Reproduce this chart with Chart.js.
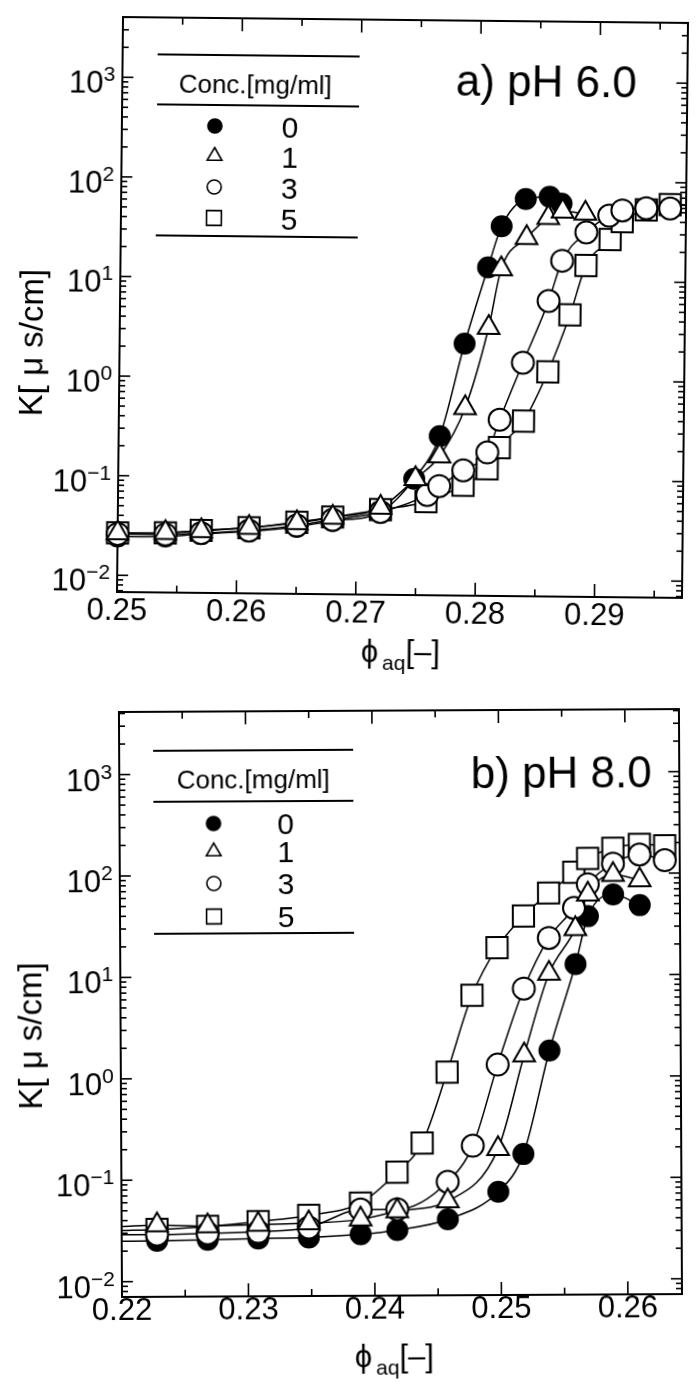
<!DOCTYPE html>
<html lang="en">
<head>
<meta charset="utf-8">
<title>K vs phi_aq</title>
<script src="https://cdn.jsdelivr.net/npm/chart.js@4/dist/chart.umd.min.js"></script>
<style>
  html, body { margin: 0; padding: 0; background: #fff; }
  body { position: relative; width: 699px; height: 1385px; overflow: hidden; }
  canvas { position: absolute; left: 0; }
  /* the scanned figure is a little skewed, so each panel is turned a touch */
  #chartA { top: 0; transform-origin: 117px 592px; transform: rotate(0.6deg); }
  #chartB { top: 690px; transform-origin: 122px 607px; transform: rotate(-0.3deg); }
</style>
</head>
<body>
<canvas id="chartA" width="699" height="690"></canvas>
<canvas id="chartB" width="699" height="695"></canvas>
<script>
const FONT = '"Liberation Sans", Arial, Helvetica, sans-serif';

const concLabels = ['0', '1', '3', '5'];
const yTickExps = [-2, -1, 0, 1, 2, 3];

// ---- a) pH 6.0 ----
const xTicksA = [0.25, 0.26, 0.27, 0.28, 0.29];
const phiA0 = [0.250, 0.254, 0.257, 0.261, 0.265, 0.268, 0.272, 0.2748, 0.2769, 0.2789, 0.2808, 0.2819, 0.2839, 0.2859, 0.2869];
const kA0   = [0.0245, 0.0248, 0.0265, 0.0285, 0.032, 0.037, 0.046, 0.10, 0.27, 2.3, 13.5, 35, 66, 70, 60];
const phiA1 = [0.250, 0.254, 0.257, 0.261, 0.265, 0.268, 0.272, 0.2749, 0.2769, 0.2790, 0.2809, 0.2819, 0.2840, 0.2858, 0.2870, 0.2889];
const kA1   = [0.0265, 0.027, 0.0285, 0.031, 0.035, 0.040, 0.051, 0.10, 0.17, 0.52, 3.35, 13, 27, 43, 50, 48];
const phiA2 = [0.250, 0.254, 0.257, 0.261, 0.265, 0.268, 0.272, 0.2759, 0.2769, 0.2789, 0.2809, 0.2819, 0.2838, 0.2859, 0.2870, 0.2890, 0.2909, 0.2920, 0.2940, 0.2960];
const kA2   = [0.026, 0.026, 0.027, 0.029, 0.033, 0.038, 0.046, 0.069, 0.085, 0.123, 0.187, 0.40, 1.5, 6.3, 16, 31, 46, 52, 55, 55];
const phiA3 = [0.250, 0.254, 0.257, 0.261, 0.265, 0.268, 0.272, 0.2758, 0.2789, 0.2809, 0.2819, 0.2839, 0.2859, 0.2877, 0.2890, 0.2910, 0.2920, 0.2940, 0.2960];
const kA3   = [0.0267, 0.027, 0.0288, 0.031, 0.0356, 0.0405, 0.0485, 0.059, 0.087, 0.128, 0.21, 0.39, 1.22, 4.6, 14.4, 26.5, 40, 53, 60];
// fitted curves run on past the last marker to the frame
const curveEndA = [null, null, 56, 58];

// ---- b) pH 8.0 ----
const xTicksB = [0.22, 0.23, 0.24, 0.25, 0.26];
const phiB0 = [0.2228, 0.2268, 0.2308, 0.2348, 0.2389, 0.2418, 0.2458, 0.2498, 0.2518, 0.2539, 0.2560, 0.2570, 0.2590, 0.2611];
const kB0   = [0.0252, 0.0256, 0.0262, 0.0267, 0.0285, 0.0313, 0.0397, 0.0736, 0.173, 1.81, 12.8, 38, 62, 48.5];
const phiB1 = [0.2228, 0.2268, 0.2308, 0.2348, 0.2389, 0.2418, 0.2458, 0.2498, 0.2519, 0.2539, 0.2560, 0.2570, 0.2590, 0.2611];
const kB1   = [0.036, 0.035, 0.036, 0.037, 0.040, 0.048, 0.060, 0.195, 1.63, 10.4, 28.6, 62.6, 97, 86];
const phiB2 = [0.2228, 0.2268, 0.2308, 0.2348, 0.2389, 0.2418, 0.2458, 0.2478, 0.2498, 0.2519, 0.2539, 0.2559, 0.2570, 0.2590, 0.2611, 0.2631];
const kB2   = [0.029, 0.0297, 0.0305, 0.0335, 0.050, 0.050, 0.093, 0.21, 1.32, 7.4, 23.3, 46, 78.5, 125, 153, 134];
const phiB3 = [0.2228, 0.2268, 0.2308, 0.2348, 0.2389, 0.2418, 0.2438, 0.2458, 0.2478, 0.2498, 0.2519, 0.2539, 0.2559, 0.2570, 0.2590, 0.2611, 0.2631];
const kB3   = [0.0326, 0.0347, 0.0385, 0.044, 0.058, 0.116, 0.225, 1.12, 6.4, 18.8, 38.4, 64.6, 103, 141, 177, 193, 186];
// curves start at the left frame
const curveStartB = [0.025, 0.035, 0.029, 0.032];

// marker look per concentration (0, 1, 3, 5 mg/ml)
const seriesStyle = [
  { pointStyle: 'circle',   radius: 10,   fill: '#000', order: 4, legendRadius: 7 },
  { pointStyle: 'triangle', radius: 12.5, fill: '#fff', order: 1, legendRadius: 8.5 },
  { pointStyle: 'circle',   radius: 11,   fill: '#fff', order: 2, legendRadius: 7 },
  { pointStyle: 'rect',     radius: 15,   fill: '#fff', order: 3, legendRadius: 10.5 }
];

function buildDatasets(phis, ks, startX, starts, endX, ends) {
  const sets = [];
  phis.forEach((phi, i) => {
    const pts = phi.map((x, j) => ({ x: x, y: ks[i][j] }));
    const curve = pts.slice();
    if (starts && starts[i] != null) curve.unshift({ x: startX, y: starts[i] });
    if (ends && ends[i] != null) curve.push({ x: endX, y: ends[i] });
    sets.push({
      data: curve, showLine: true, borderColor: '#000', borderWidth: 1.5,
      pointRadius: 0, pointHoverRadius: 0, cubicInterpolationMode: 'monotone', order: 10
    });
    const st = seriesStyle[i];
    sets.push({
      data: pts, showLine: false, pointStyle: st.pointStyle, pointRadius: st.radius,
      pointHoverRadius: st.radius, pointBackgroundColor: st.fill, pointBorderColor: '#000',
      pointBorderWidth: 2, order: st.order, clip: false
    });
  });
  return sets;
}

function seg(ctx, x1, y1, x2, y2) {
  ctx.beginPath();
  ctx.moveTo(x1, y1);
  ctx.lineTo(x2, y2);
  ctx.stroke();
}

function drawMarker(ctx, st, x, y) {
  const opts = { pointStyle: st.pointStyle, radius: st.legendRadius, borderWidth: 1.6, rotation: 0 };
  if (Chart.helpers && Chart.helpers.drawPoint) {
    Chart.helpers.drawPoint(ctx, opts, x, y);
    return;
  }
  ctx.beginPath();
  ctx.arc(x, y, st.legendRadius, 0, Math.PI * 2);
  ctx.fill();
  ctx.stroke();
}

// frame, inward ticks, labels, titles and the legend table
const framePlugin = {
  id: 'frame',
  beforeDatasetsDraw(chart, args, o) {
    const ctx = chart.ctx, a = chart.chartArea;
    const xs = chart.scales.x, ys = chart.scales.y;
    ctx.save();
    ctx.strokeStyle = '#000';
    ctx.fillStyle = '#000';
    ctx.lineWidth = 2;
    ctx.strokeRect(a.left, a.top, a.right - a.left, a.bottom - a.top);

    ctx.lineWidth = 1.6;
    o.xTicks.forEach(t => {
      [[t, 13], [t + 0.005, 7]].forEach(([v, len]) => {
        if (v < xs.min || v > xs.max) return;
        const px = xs.getPixelForValue(v);
        seg(ctx, px, a.bottom, px, a.bottom - len);
        seg(ctx, px, a.top, px, a.top + len);
      });
    });
    for (let e = -3; e <= 3; e++) {
      for (let m = 1; m <= 9; m++) {
        const v = m * Math.pow(10, e);
        if (v < ys.min || v > ys.max) continue;
        const py = ys.getPixelForValue(v);
        const len = m === 1 ? 11 : 6;
        seg(ctx, a.left, py, a.left + len, py);
        seg(ctx, a.right, py, a.right - len, py);
      }
    }

    // tick labels
    ctx.textBaseline = 'alphabetic';
    ctx.textAlign = 'center';
    ctx.font = '31px ' + FONT;
    o.xTicks.forEach(t => ctx.fillText(t.toFixed(2), xs.getPixelForValue(t), a.bottom + o.xLabelDy));

    ctx.textAlign = 'left';
    yTickExps.forEach(e => {
      const py = ys.getPixelForValue(Math.pow(10, e));
      const sup = e < 0 ? '\u2212' + (-e) : String(e);
      ctx.font = '31px ' + FONT;
      const w1 = ctx.measureText('10').width;
      ctx.font = '21px ' + FONT;
      const w2 = ctx.measureText(sup).width;
      const x0 = a.left - o.yLabelGap - w1 - w2;
      ctx.font = '31px ' + FONT;
      ctx.fillText('10', x0, py + 16);
      ctx.font = '21px ' + FONT;
      ctx.fillText(sup, x0 + w1, py + 4);
    });

    // y title
    ctx.save();
    ctx.translate(o.yTitle.x, (a.top + a.bottom) / 2 + o.yTitle.dy);
    ctx.rotate(-Math.PI / 2);
    ctx.textAlign = 'center';
    ctx.font = '33px ' + FONT;
    ctx.fillText('K[ \u03bc s/cm]', 0, 0);
    ctx.restore();

    // x title: phi with subscript aq
    const by = a.bottom + o.xTitle.dy;
    ctx.textAlign = 'left';
    ctx.font = '31px ' + FONT;
    const wPhi = ctx.measureText('\u03d5').width;
    const wBr = ctx.measureText('[\u2013]').width;
    ctx.font = '21px ' + FONT;
    const wAq = ctx.measureText('aq').width;
    let tx = o.xTitle.x - (wPhi + 4 + wAq + wBr) / 2;
    ctx.font = '31px ' + FONT;
    ctx.fillText('\u03d5', tx, by);
    tx += wPhi + 4;
    ctx.font = '21px ' + FONT;
    ctx.fillText('aq', tx, by + 8);
    tx += wAq;
    ctx.font = '31px ' + FONT;
    ctx.fillText('[\u2013]', tx, by);

    // legend table
    const L = o.legend;
    ctx.lineWidth = 2;
    L.lines.forEach(dy => seg(ctx, L.x1, a.top + dy, L.x2, a.top + dy));
    ctx.textAlign = 'center';
    ctx.font = '26px ' + FONT;
    ctx.fillText('Conc.[mg/ml]', L.headX, a.top + L.headDy);
    concLabels.forEach((lab, i) => {
      const cy = a.top + L.rows[i];
      const st = seriesStyle[i];
      ctx.fillStyle = st.fill;
      ctx.strokeStyle = '#000';
      ctx.lineWidth = 1.6;
      drawMarker(ctx, st, L.symX, cy);
      ctx.fillStyle = '#000';
      ctx.font = '30px ' + FONT;
      ctx.fillText(lab, L.numX, cy + 11);
    });

    // panel label
    ctx.font = '44px ' + FONT;
    ctx.fillText(o.label.text, o.label.x, a.top + o.label.dy);
    ctx.restore();
  }
};

function makeChart(id, datasets, xRange, yRange, pad, deco) {
  return new Chart(document.getElementById(id), {
    type: 'scatter',
    data: { datasets: datasets },
    options: {
      responsive: false,
      animation: false,
      devicePixelRatio: 1,
      layout: { padding: { left: 0, top: pad.top, right: pad.right, bottom: 0 } },
      scales: {
        x: {
          type: 'linear', min: xRange[0], max: xRange[1], bounds: 'data',
          ticks: { display: false }, grid: { display: false }, border: { display: false },
          afterFit: s => { s.height = pad.bottom; }
        },
        y: {
          type: 'logarithmic', min: yRange[0], max: yRange[1], bounds: 'data',
          ticks: { display: false }, grid: { display: false }, border: { display: false },
          afterFit: s => { s.width = pad.left; }
        }
      },
      plugins: { legend: { display: false }, tooltip: { enabled: false }, frame: deco }
    },
    plugins: [framePlugin]
  });
}

makeChart('chartA',
  buildDatasets([phiA0, phiA1, phiA2, phiA3], [kA0, kA1, kA2, kA3], null, null, 0.299, curveEndA),
  [0.25, 0.29733], [Math.pow(10, -2.168), Math.pow(10, 3.605)],
  { left: 117, top: 7, right: 7, bottom: 98 },
  {
    xTicks: xTicksA, xLabelDy: 28, yLabelGap: 7,
    xTitle: { x: 401, dy: 67 }, yTitle: { x: 40, dy: 39 },
    legend: { x1: 152, x2: 354, lines: [37, 87, 218], headX: 250, headDy: 75, symX: 210, numX: 285, rows: [108, 138, 169, 200] },
    label: { text: 'a) pH 6.0', x: 541, dy: 75 }
  });

makeChart('chartB',
  buildDatasets([phiB0, phiB1, phiB2, phiB3], [kB0, kB1, kB2, kB3], 0.22, curveStartB, null, null),
  [0.22, 0.26428], [Math.pow(10, -2.151), Math.pow(10, 3.617)],
  { left: 122, top: 22, right: 4, bottom: 88 },
  {
    xTicks: xTicksB, xLabelDy: 23, yLabelGap: 7,
    xTitle: { x: 394, dy: 71 }, yTitle: { x: 43, dy: 31 },
    legend: { x1: 156, x2: 356, lines: [39, 90, 222], headX: 256, headDy: 77, symX: 216, numX: 288, rows: [112, 140, 172, 205] },
    label: { text: 'b) pH 8.0', x: 564, dy: 78 }
  });
</script>
</body>
</html>
